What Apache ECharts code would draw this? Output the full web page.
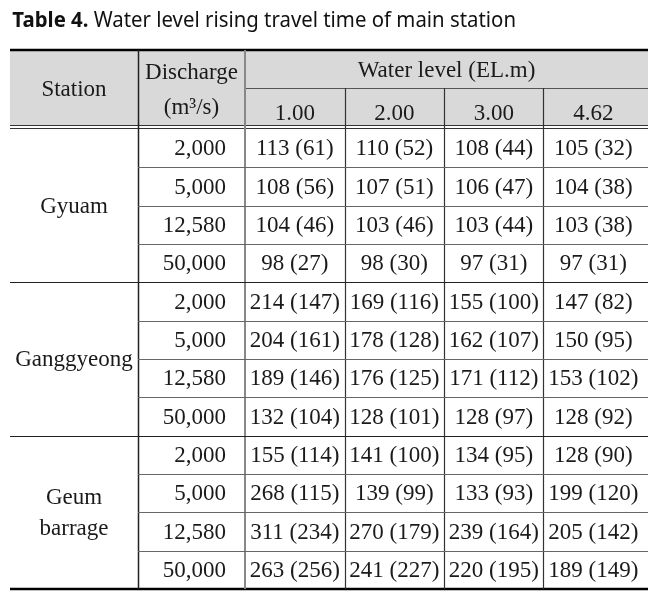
<!DOCTYPE html>
<html><head><meta charset="utf-8">
<script src="https://cdn.jsdelivr.net/npm/echarts@6/dist/echarts.min.js"></script>
<style>html,body{margin:0;padding:0;background:#fff}#c{width:668px;height:593px}</style>
</head><body><div id="c"></div>
<script>
// ---- data ----
const stations = ['Gyuam', 'Ganggyeong', 'Geum\nbarrage'];
const discharges = ['2,000', '5,000', '12,580', '50,000'];
const levels = ['1.00', '2.00', '3.00', '4.62'];

const gyuamTime = [[113, 110, 108, 105], [108, 107, 106, 104], [104, 103, 103, 103], [98, 98, 97, 97]];
const gyuamParen = [[61, 52, 44, 32], [56, 51, 47, 38], [46, 46, 44, 38], [27, 30, 31, 31]];
const ganggyeongTime = [[214, 169, 155, 147], [204, 178, 162, 150], [189, 176, 171, 153], [132, 128, 128, 128]];
const ganggyeongParen = [[147, 116, 100, 82], [161, 128, 107, 95], [146, 125, 112, 102], [104, 101, 97, 92]];
const geumTime = [[155, 141, 134, 128], [268, 139, 133, 199], [311, 270, 239, 205], [263, 241, 220, 189]];
const geumParen = [[114, 100, 95, 90], [115, 99, 93, 120], [234, 179, 164, 142], [256, 227, 195, 149]];

const timeTables = [gyuamTime, ganggyeongTime, geumTime];
const parenTables = [gyuamParen, ganggyeongParen, geumParen];

// ---- layout ----
const SERIF = '"Liberation Serif", "Times New Roman", serif';
const FS = 23;
const X0 = 10, X1 = 648, XS = 138, XD = 245, XC = [345, 444, 543];
const Y0 = 50, YSUB = 88, YH = 129, YB = 589;
const TXT = '#1a1a1a';

const rowKeys = [];
stations.forEach(s => discharges.forEach(d => rowKeys.push(s + '|' + d)));

const valueData = [];
const dischargeData = [];
rowKeys.forEach((k, r) => {
  const si = Math.floor(r / discharges.length), di = r % discharges.length;
  dischargeData.push([0, r]);
  levels.forEach((lv, c) => valueData.push([c, r, timeTables[si][di][c], parenTables[si][di][c]]));
});
const stationData = stations.map((s, i) => [0, i]);

function txt(text, x, y, extra) {
  return Object.assign({ type: 'text', x: x, y: y, silent: true,
    style: Object.assign({ text: text, font: FS + 'px ' + SERIF, fill: TXT, align: 'center', verticalAlign: 'middle' }, extra || {}) });
}
function line(x1, y1, x2, y2, stroke, w) {
  return { type: 'line', silent: true, z: 10, shape: { x1, y1, x2, y2 }, style: { stroke, lineWidth: w } };
}

const rowH = (YB - YH) / rowKeys.length;
const graphics = [
  { type: 'rect', silent: true, z: -1, shape: { x: X0, y: Y0, width: X1 - X0, height: YH - Y0 }, style: { fill: '#d9d9d9' } },
  { type: 'rect', silent: true, z: -1, shape: { x: X0, y: YH - 3, width: X1 - X0, height: 3 }, style: { fill: '#ffffff' } },
  {
    type: 'text', x: 12, y: 21, scaleX: 0.97, originX: 12, silent: true,
    style: {
      text: '{b|Table 4.} Water level rising travel time of main station',
      font: '21px "Noto Sans", sans-serif', fill: '#111', verticalAlign: 'middle', align: 'left',
      rich: { b: { fontWeight: 'bold', fontSize: 21, fontFamily: '"Noto Sans", sans-serif', fill: '#111' } }
    }
  },
  txt('Station', (X0 + XS) / 2, 90),
  txt('Discharge', (XS + XD) / 2, 73),
  txt('(m\u00b3/s)', (XS + XD) / 2, 108),
  txt('Water level (EL.m)', (XD + X1) / 2, 71),
  line(X0, Y0, X1, Y0, '#000', 2.5),
  line(X0, YB, X1, YB, '#000', 2.5),
  line(X0, YH - 3.5, X1, YH - 3.5, '#333', 1),
  line(X0, YH - 0.5, X1, YH - 0.5, '#333', 1),
  line(XD, YSUB + 0.5, X1, YSUB + 0.5, '#555', 1),
  line(XS + 0.5, Y0, XS + 0.5, YB, '#222', 1.5),
  line(XD, Y0, XD, YB, '#888', 2)
];
XC.forEach(x => graphics.push(line(x + 0.5, YSUB, x + 0.5, YB, '#333', 1.2)));
for (let i = 1; i < rowKeys.length; i++) {
  const y = Math.round(YH + i * rowH) + 0.5;
  const group = i % discharges.length === 0;
  graphics.push(line(group ? X0 : XS, y, X1, y, group ? '#222' : '#666', 1));
}

const hidden = { show: false };
const chart = echarts.init(document.getElementById('c'), null, { renderer: 'canvas' });
chart.setOption({
  animation: false,
  backgroundColor: '#fff',
  grid: [
    { left: X0, top: YH, width: XS - X0, height: YB - YH },
    { left: XS, top: YH, width: XD - XS, height: YB - YH },
    { left: XD, top: YH, width: 398, height: YB - YH }
  ],
  xAxis: [
    { type: 'category', gridIndex: 0, data: ['Station'], show: false },
    { type: 'category', gridIndex: 1, data: ['Discharge'], show: false },
    {
      type: 'category', gridIndex: 2, data: levels, position: 'top',
      axisLine: hidden, axisTick: hidden, splitLine: hidden,
      axisLabel: { interval: 0, margin: 4, fontSize: FS, fontFamily: SERIF, color: TXT }
    }
  ],
  yAxis: [
    { type: 'category', gridIndex: 0, data: stations, inverse: true, show: false },
    { type: 'category', gridIndex: 1, data: rowKeys, inverse: true, show: false },
    { type: 'category', gridIndex: 2, data: rowKeys, inverse: true, show: false }
  ],
  series: [
    {
      type: 'custom', xAxisIndex: 0, yAxisIndex: 0, data: stationData, silent: true,
      renderItem: (params, api) => {
        const p = api.coord([api.value(0), api.value(1)]);
        return txt(stations[params.dataIndex], p[0], p[1] + 1, { lineHeight: 31 });
      }
    },
    {
      type: 'custom', xAxisIndex: 1, yAxisIndex: 1, data: dischargeData, silent: true,
      renderItem: (params, api) => {
        const p = api.coord([api.value(0), api.value(1)]);
        const w = api.size([1, 1])[0];
        return txt(discharges[params.dataIndex % discharges.length], p[0] + w / 2 - 19, p[1] + 1, { align: 'right' });
      }
    },
    {
      type: 'custom', xAxisIndex: 2, yAxisIndex: 2, data: valueData, silent: true,
      renderItem: (params, api) => {
        const p = api.coord([api.value(0), api.value(1)]);
        return txt(api.value(2) + ' (' + api.value(3) + ')', p[0], p[1] + 1);
      }
    }
  ],
  graphic: graphics
});
</script>
</body></html>
